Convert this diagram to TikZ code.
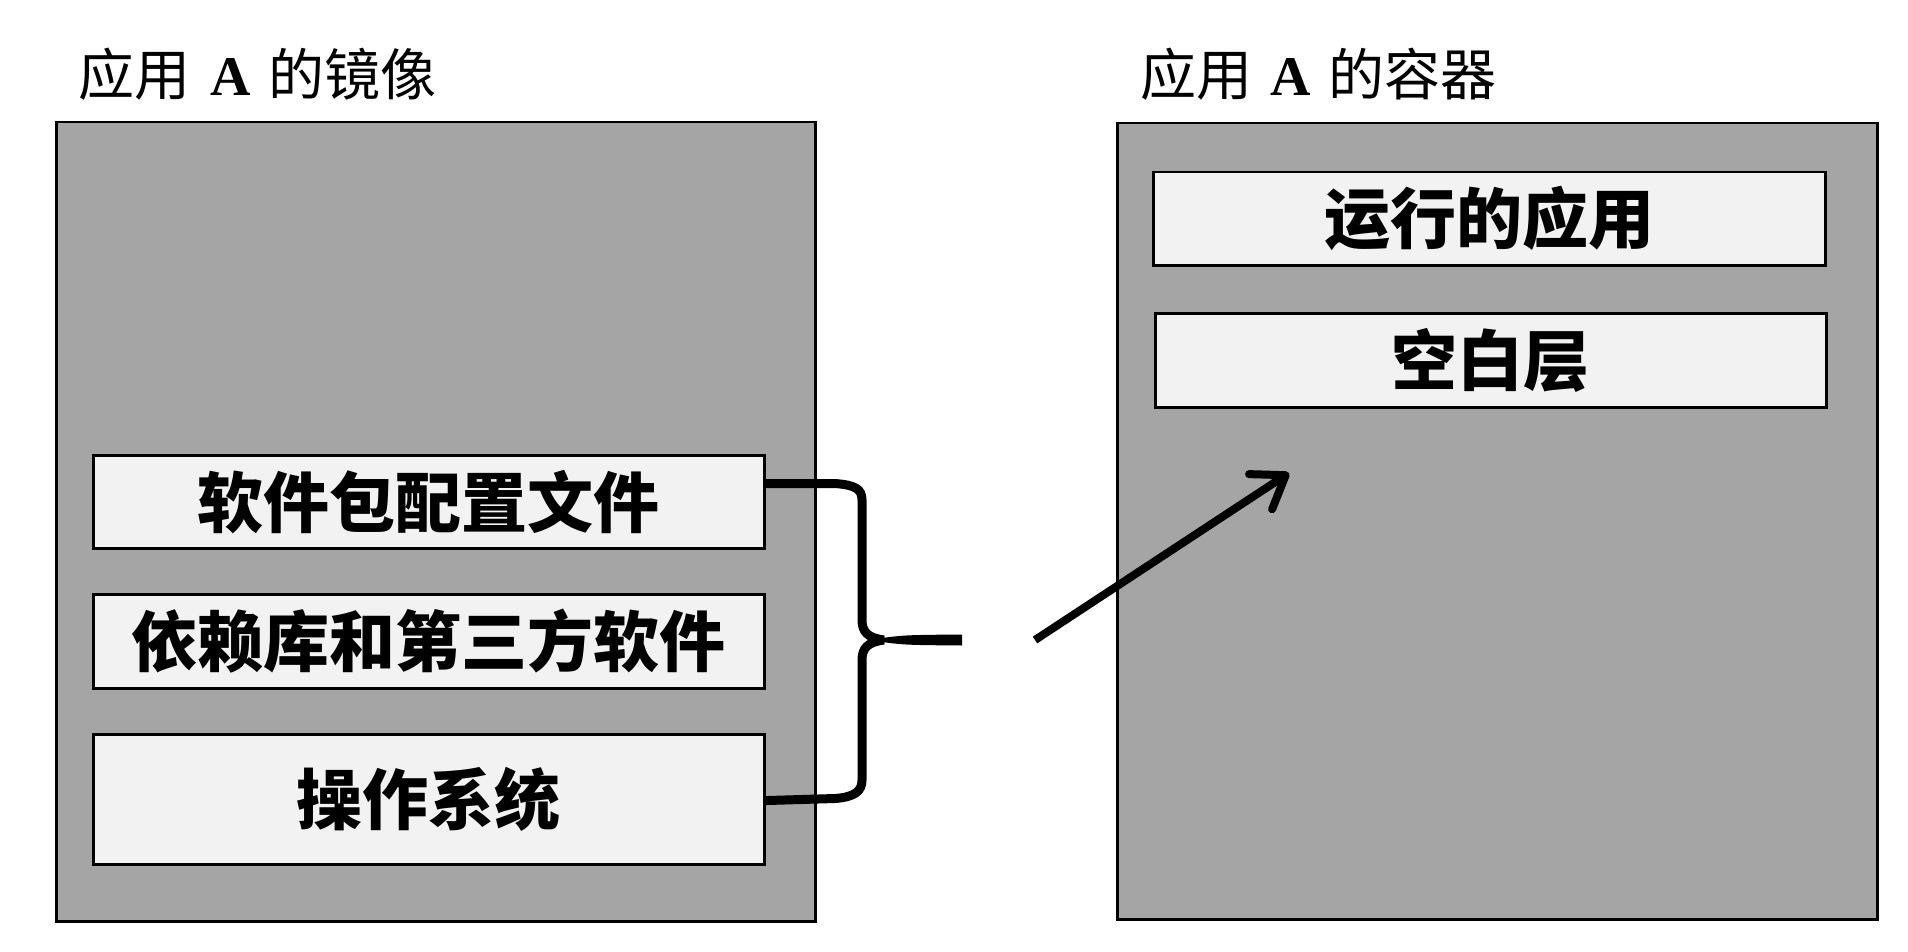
\documentclass[tikz,border=0pt]{standalone}
\usepackage{fontspec}
\usetikzlibrary{arrows.meta,calc}
\newfontfamily\cjk{Noto Sans CJK SC}
\newfontfamily\cjkheavy{Noto Sans CJK SC Black}
\newfontfamily\latinserif{Liberation Serif}
\definecolor{panelgray}{HTML}{A5A5A5}
\definecolor{layergray}{HTML}{F2F2F2}

\begin{document}
\begin{tikzpicture}[x=1pt,y=-1pt,
  panel/.style={draw=black, line width=2.5pt, fill=panelgray, inner sep=0pt, anchor=north west},
  layer/.style={draw=black, line width=2.5pt, fill=layergray, inner sep=0pt, anchor=north west,
                font=\cjkheavy\fontsize{66}{70}\selectfont},
  title/.style={anchor=base west, inner sep=0pt, font=\cjk\fontsize{56}{60}\selectfont},
  brace/.style={draw=black, line width=9pt},
  flow/.style={draw=black, line width=8pt,
               -{Straight Barb[length=30pt,width=42pt,line width=8pt,round]}}]

\useasboundingbox (0,0) rectangle (1908,952);

% image of application A with its read-only layers
\node[title] (imgtitle) at (78,96) {应用\hspace{20pt}{\latinserif\bfseries A}\hspace{18pt}的镜像};
\node[panel, minimum width=759pt, minimum height=799pt] (image) at (55,121) {};
\node[layer, minimum width=671pt, minimum height=93pt]  (pkg) at (92,454) {软件包配置文件};
\node[layer, minimum width=671pt, minimum height=94pt]  (deps) at (92,593) {依赖库和第三方软件};
\node[layer, minimum width=671pt, minimum height=130pt] (os) at (92,733) {操作系统};

% container of application A
\node[title] (ctitle) at (1140,96) {应用\hspace{18pt}{\latinserif\bfseries A}\hspace{18pt}的容器};
\node[panel, minimum width=760pt, minimum height=796pt] (container) at (1116,122) {};
\node[layer, minimum width=672pt, minimum height=93pt] (app) at (1152,171) {运行的应用};
\node[layer, minimum width=671pt, minimum height=94pt] (blank) at (1154,312) {空白层};

% curly brace gathering the image layers
\coordinate (btop) at ($(pkg.north east)!0.31!(pkg.south east)$);
\coordinate (bbot) at ($(os.north east)!0.51!(os.south east)$);
\coordinate (btip) at (884,640);
\draw[brace] (btop) -- (835,483.5) .. controls (855,485) and (862,489) .. (862,500)
  -- (862,620) .. controls (862,632) and (868,638) .. (btip);
\draw[brace] (btip) .. controls (868,642) and (862,648) .. (862,660)
  -- (862,780) .. controls (862,791) and (855,797) .. (835,798.5) -- (bbot);
\fill[black] (878,638.5) .. controls (905,635) .. (962,634.5) -- (962,645.5)
  .. controls (905,645) .. (878,641.5) -- cycle;

% arrow into the container
\coordinate (from) at (1035,640);
\coordinate (to) at (1289,473);
\draw[flow] (from) -- (to);

\end{tikzpicture}
\end{document}
